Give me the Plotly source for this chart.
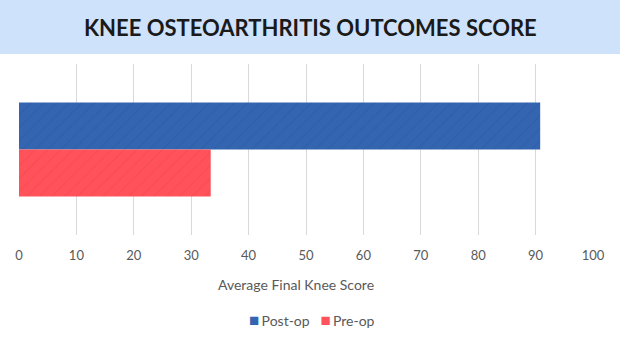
import plotly.graph_objects as go

categories = ["Average Final Knee Score"]
series_names = ["Post-op", "Pre-op"]
post_op = [90.8]
pre_op = [33.4]
x_ticks = [0, 10, 20, 30, 40, 50, 60, 70, 80, 90, 100]
colors = ["#3465B0", "#FF525A"]
hatch = ["#2C5AA0", "#EE4A52"]

W, H = 620, 350
L, R, T, B = 19, 27, 64, 115
ph = H - T - B
pw = W - L - R

def px_x(x):
    return (x - L) / pw

def px_y(y):
    return (H - B - y) / ph

fig = go.Figure()
for name, vals, c, h in zip(series_names, [post_op, pre_op], colors, hatch):
    fig.add_trace(go.Bar(
        y=categories, x=vals, name=name, orientation="h",
        marker=dict(color=c, line=dict(width=0),
                    pattern=dict(shape="/", fgcolor=h, size=9, solidity=0.15)),
    ))

label_font = dict(family="Lato", size=13, color="#595959")

legend_text = "   ".join(
    f'<span style="color:{c};font-size:17px">■</span><span style="font-size:9px">&nbsp;</span>{n}'
    for n, c in zip(series_names, colors)
)

fig.update_layout(
    width=W, height=H,
    margin=dict(l=L, r=R, t=T, b=B),
    paper_bgcolor="white", plot_bgcolor="white",
    barmode="group", bargap=0.45, bargroupgap=0,
    showlegend=False,
    xaxis=dict(range=[0, 100], tickvals=x_ticks, showgrid=True, gridcolor="#D9D9D9",
               gridwidth=1, zeroline=False, showline=False,
               ticks="outside", ticklen=8, tickcolor="rgba(0,0,0,0)",
               tickfont=label_font),
    yaxis=dict(autorange="reversed", showticklabels=False, showgrid=False,
               zeroline=False, showline=False),
    shapes=[dict(type="rect", xref="paper", yref="paper",
                 x0=-L / pw, x1=1 + R / pw, y0=px_y(54), y1=px_y(0),
                 fillcolor="#CFE2FC", line=dict(width=0), layer="below")],
    annotations=[
        dict(text="<b>KNEE OSTEOARTHRITIS OUTCOMES SCORE</b>", xref="paper", yref="paper",
             x=px_x(310), y=px_y(27), xanchor="center", yanchor="middle",
             showarrow=False, font=dict(family="Lato", size=22, color="#1A1A1A")),
        dict(text=categories[0], xref="paper", yref="paper",
             x=px_x(296), y=px_y(284), xanchor="center", yanchor="middle",
             showarrow=False, font=dict(family="Lato", size=14, color="#595959")),
        dict(text=legend_text, xref="paper", yref="paper",
             x=px_x(312), y=px_y(319), xanchor="center", yanchor="middle",
             showarrow=False, font=dict(family="Lato", size=14, color="#595959")),
    ],
)

fig.write_html("out.html")
